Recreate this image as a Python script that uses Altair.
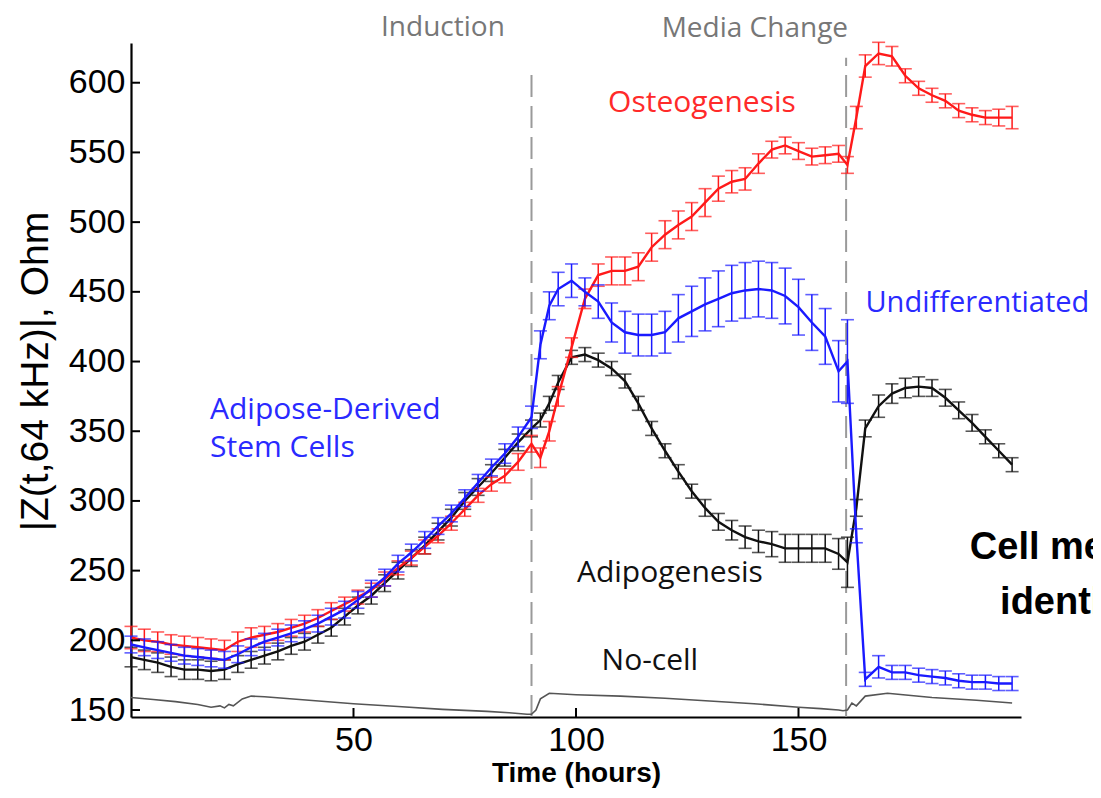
import altair as alt
import pandas as pd

# ---------------- data ----------------
TIME = [0, 3, 6, 9, 12, 15, 18, 21, 24, 27, 30, 33, 36, 39, 42, 45, 48, 51, 54, 57,
        60, 63, 66, 69, 72, 75, 78, 81, 84, 87, 90,
        92, 94, 96,
        99, 102, 105, 108, 111, 114, 117, 120, 123, 126, 129, 132, 135, 138, 141, 144,
        147, 150, 153, 156, 159,
        161,
        163, 165,
        168, 171, 174, 177, 180, 183, 186, 189, 192, 195, 198]

OSTEO = [202, 200, 199, 197, 196, 195, 194, 193, 199, 202, 204, 206, 209, 212, 216, 221,
         226, 231, 236, 244, 252, 259, 267, 275, 284, 294, 304, 312, 318, 328, 341,
         331, 350, 375,
         410, 445, 462, 465, 465, 468, 482, 491, 498, 504, 514, 524, 529, 531, 542, 552,
         555, 551, 547, 548, 549,
         541,
         575, 612,
         621, 619, 605, 596, 591, 587, 580, 577, 575, 575, 575]
OSTEO_ERR = [8, 8, 7, 7, 7, 7, 7, 7, 7, 7, 6, 6, 6, 6, 6, 6, 5, 5, 5, 5, 5, 5, 5, 5, 5, 5,
             5, 5, 5, 6, 6,
             7, 7, 7,
             7, 7, 8, 10, 10, 10, 10, 10, 10, 10, 10, 9, 8, 8, 7, 6, 6, 6, 6, 6, 6,
             6,
             8, 8,
             8, 7, 5, 5, 5, 5, 5, 5, 5, 6, 8]

UNDIFF = [197, 195, 193, 191, 189, 188, 187, 186, 190, 195, 199, 202, 205, 208, 212, 217,
          222, 229, 237, 245, 255, 263, 272, 282, 291, 302, 313, 324, 334, 346, 360,
          412, 440, 452,
          458, 450, 443, 428, 421, 419, 419, 421, 431, 436, 441, 445, 449, 451, 452, 451,
          447, 439, 428, 418, 393,
          400,
          275, 172,
          181, 177, 177, 175, 174, 173, 171, 170, 170, 169, 169]
UNDIFF_ERR = [6, 6, 6, 6, 6, 6, 6, 6, 6, 6, 6, 6, 6, 6, 6, 6, 6, 6, 6, 6, 6, 6, 6, 6, 6, 6,
              6, 6, 7, 7, 8,
              10, 10, 12,
              12, 10, 12, 14, 15, 15, 15, 15, 17, 18, 19, 20, 20, 20, 20, 20, 20, 20, 20, 20, 22,
              30,
              5, 5,
              8, 5, 5, 5, 5, 5, 5, 5, 5, 5, 5]

ADIPO = [188, 186, 184, 181, 179, 179, 178, 179, 183, 186, 189, 192, 196, 199, 204, 209,
         217, 225, 232, 241, 250, 259, 268, 278, 288, 300, 310, 320, 331, 342, 352,
         358, 370, 385,
         403, 405, 401, 395, 386, 370, 352, 336, 321, 307, 295, 285, 279, 274, 271, 269,
         266, 266, 266, 266, 262,
         256,
         295, 352,
         368, 377, 381, 382, 381, 374, 365, 356, 346, 336, 326]
ADIPO_ERR = [7, 7, 7, 7, 7, 7, 7, 7, 6, 6, 6, 6, 6, 6, 6, 6, 6, 6, 6, 6, 6, 6, 6, 6, 6, 6,
             6, 6, 6, 6, 6,
             5, 5, 5,
             5, 5, 5, 5, 5, 5, 5, 5, 5, 5, 6, 6, 7, 8, 8, 9, 10, 10, 10, 10, 11,
             18,
             6, 6,
             8, 7, 7, 7, 6, 6, 6, 6, 5, 5, 5]

NOCELL_TIME = [0, 5, 10, 15, 18, 20, 21, 22, 23, 25, 27, 30, 40, 50, 60, 70, 80, 85, 89,
               90, 91, 92, 94, 100, 110, 120, 130, 140, 150, 155, 159, 160, 161, 162, 163,
               165, 170, 180, 190, 198]
NOCELL = [159, 157.5, 156, 154, 152, 153, 151.5, 154, 153, 158, 160, 159.5, 157, 154.5,
          152.5, 150.5, 149, 148, 147, 147, 150, 158, 162, 161, 160, 158.5, 156.5, 154.5,
          152, 151, 150, 149.5, 150, 155, 153, 160, 162, 159, 157, 155]

EVENT_TIME = [90, 160.7]
EVENT_TOP = [609, 618]

X_TICKS = [50, 100, 150]
Y_TICKS = [150, 200, 250, 300, 350, 400, 450, 500, 550, 600]

SERIES = ["Adipogenesis", "Osteogenesis", "Undifferentiated"]
SERIES_COLORS = ["#111111", "#ff1a1a", "#1a1aff"]

# ---------------- tables ----------------
rows = []
for name, vals, errs in [("Adipogenesis", ADIPO, ADIPO_ERR),
                         ("Osteogenesis", OSTEO, OSTEO_ERR),
                         ("Undifferentiated", UNDIFF, UNDIFF_ERR)]:
    for t, v, e in zip(TIME, vals, errs):
        rows.append({"series": name, "t": t, "v": v, "lo": v - e, "hi": v + e})
df = pd.DataFrame(rows)
nocell = pd.DataFrame({"t": NOCELL_TIME, "v": NOCELL})
events = pd.DataFrame({"t": EVENT_TIME, "lo": [145] * 2, "hi": EVENT_TOP})
xt = pd.DataFrame({"t": X_TICKS})
yt = pd.DataFrame({"v": Y_TICKS})

# ---------------- scales / axes ----------------
XS = alt.Scale(domain=[0, 200], nice=False, zero=False)
YS = alt.Scale(domain=[145, 628.5], nice=False, zero=False)
XA = alt.Axis(values=X_TICKS, ticks=False, grid=False, labelFont="Liberation Sans",
              labelFontSize=34, labelPadding=6, labelColor="black",
              domainColor="black", domainWidth=2.2,
              titleFont="Liberation Sans", titleFontSize=28, titleFontWeight="bold",
              titleColor="black", titlePadding=2)
YA = alt.Axis(values=Y_TICKS, ticks=False, grid=False, labelFont="Liberation Sans",
              labelFontSize=34, labelPadding=6, labelColor="black",
              domainColor="black", domainWidth=2.2,
              titleFont="Liberation Sans", titleFontSize=39, titleFontWeight="normal",
              titleColor="black", titlePadding=13, titleY=328)


def xe(f):
    return alt.X(f"{f}:Q", scale=XS, axis=XA, title="Time (hours)")


def ye(f):
    return alt.Y(f"{f}:Q", scale=YS, axis=YA, title="|Z(t,64 kHz)|, Ohm")


COL = alt.Color("series:N", scale=alt.Scale(domain=SERIES, range=SERIES_COLORS), legend=None)

layers = []

# event dashed lines
layers.append(alt.Chart(events).mark_rule(color="#9a9a9a", strokeWidth=2, strokeDash=[22, 9])
              .encode(x=xe("t"), y=ye("lo"), y2="hi:Q"))

# no-cell line
layers.append(alt.Chart(nocell).mark_line(color="#555555", strokeWidth=1.6)
              .encode(x=xe("t"), y=ye("v"), order="t:Q"))

for name in SERIES:
    sub = df[df.series == name]
    base = alt.Chart(sub)
    layers.append(base.mark_rule(strokeWidth=1.5).encode(x=xe("t"), y=ye("lo"), y2="hi:Q", color=COL))
    layers.append(base.mark_tick(orient="horizontal", size=13, thickness=1.6)
                  .encode(x=xe("t"), y=ye("lo"), color=COL))
    layers.append(base.mark_tick(orient="horizontal", size=13, thickness=1.6)
                  .encode(x=xe("t"), y=ye("hi"), color=COL))
    layers.append(base.mark_line(strokeWidth=2.4).encode(x=xe("t"), y=ye("v"), color=COL,
                                                          order="t:Q"))

# inward axis ticks
layers.append(alt.Chart(xt).mark_rule(color="black", strokeWidth=2)
              .encode(x=xe("t"), y=alt.value(674), y2=alt.value(665)))
layers.append(alt.Chart(yt).mark_rule(color="black", strokeWidth=2)
              .encode(y=ye("v"), x=alt.value(0), x2=alt.value(9)))

# annotations
ANNOT = [
    ("Induction", 70.1, 639.5, "#777777", "center", 28, "Open Sans", "normal"),
    ("Media Change", 140.2, 638.5, "#777777", "center", 28, "Open Sans", "normal"),
    ("Osteogenesis", 128.3, 585.8, "#ff2a2a", "center", 30, "Open Sans", "normal"),
    ("Undifferentiated", 190.2, 442.0, "#2a2aff", "center", 29, "Open Sans", "normal"),
    ("Adipose-Derived", 17.75, 365.0, "#2a2aff", "left", 30, "Open Sans", "normal"),
    ("Stem Cells", 17.75, 338.2, "#2a2aff", "left", 30, "Open Sans", "normal"),
    ("Adipogenesis", 121.1, 248.3, "#111111", "center", 30, "Open Sans", "normal"),
    ("No-cell", 116.6, 185.0, "#111111", "center", 30, "Open Sans", "normal"),
    ("Cell membrane", 188.5, 266.5, "#000000", "left", 38, "Liberation Sans", "bold"),
    ("identification", 195.3, 227.0, "#000000", "left", 38, "Liberation Sans", "bold"),
]
for txt, tx, ty, col, al, fs, fnt, fw in ANNOT:
    d = pd.DataFrame({"t": [tx], "v": [ty], "label": [txt]})
    layers.append(alt.Chart(d).mark_text(color=col, align=al, baseline="middle", fontSize=fs,
                                         font=fnt, fontWeight=fw)
                  .encode(x=xe("t"), y=ye("v"), text="label:N"))

chart = (alt.layer(*layers)
         .properties(width=890, height=674,
                     autosize=alt.AutoSizeParams(type="none"),
                     padding={"left": 123, "top": 35, "right": 72, "bottom": 73},
                     background="white")
         .configure_view(stroke=None))

chart.save("out.html", embed_options={"renderer": "svg", "actions": False})
